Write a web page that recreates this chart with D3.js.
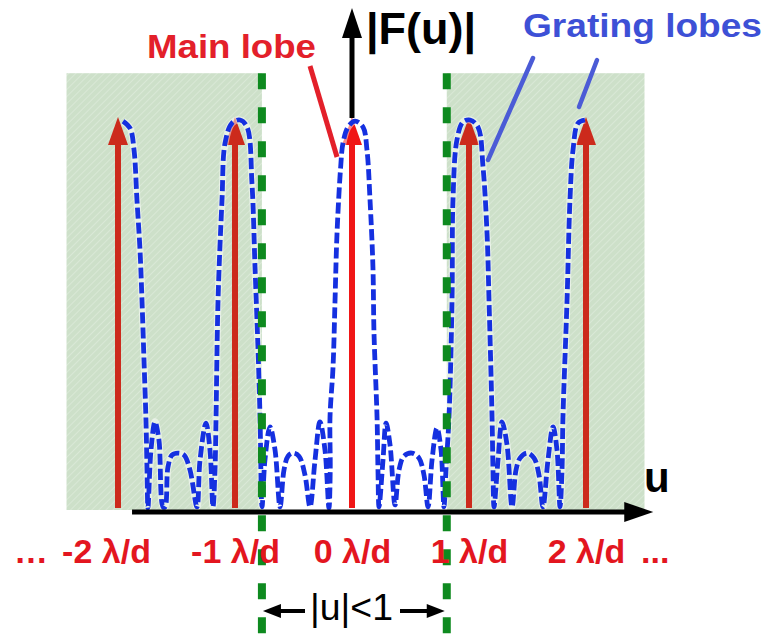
<!DOCTYPE html>
<html>
<head>
<meta charset="utf-8">
<script src="https://cdn.jsdelivr.net/npm/d3@7"></script>
<style>
  html, body { margin: 0; padding: 0; background: #ffffff; }
  svg { display: block; }
  text { font-family: "Liberation Sans", Arial, Helvetica, sans-serif; }
</style>
</head>
<body>
<script>
// ---------------- data ----------------
const uTicks = [-2, -1, 0, 1, 2];
const tickLabels = ["-2 \u03BB/d", "-1 \u03BB/d", "0 \u03BB/d", "1 \u03BB/d", "2 \u03BB/d"];
const arrowAmp = [1, 1, 1, 1, 1];

// |F(u)| curve (u in λ/d units, relative amplitude)
const curveU = [
  -1.957, -1.897, -1.863, -1.838, -1.812, -1.795, -1.778, -1.761, -1.752, -1.744,
  -1.718, -1.684, -1.650, -1.615,
  -1.598, -1.573, -1.538, -1.487, -1.436, -1.385, -1.325,
  -1.299, -1.248, -1.214, -1.188,
  -1.171, -1.162, -1.145, -1.111, -1.085, -1.026, -0.957, -0.897, -0.855, -0.829, -0.803, -0.786, -0.769,
  -0.744, -0.701, -0.658, -0.615,
  -0.581, -0.547, -0.504, -0.453, -0.402, -0.359,
  -0.316, -0.274, -0.231, -0.197,
  -0.186, -0.188, -0.162, -0.145, -0.128, -0.097, -0.077, -0.034, 0.026, 0.094, 0.128, 0.154, 0.179, 0.188, 0.214, 0.222, 0.231,
  0.265, 0.291, 0.325, 0.368,
  0.402, 0.444, 0.513, 0.573, 0.615, 0.650,
  0.684, 0.726, 0.761, 0.786,
  0.803, 0.829, 0.855, 0.863, 0.897, 0.949, 1.009, 1.077, 1.120, 1.154, 1.171, 1.197, 1.205, 1.214,
  1.248, 1.282, 1.325, 1.368,
  1.402, 1.436, 1.496, 1.556, 1.598, 1.632,
  1.675, 1.718, 1.752, 1.778,
  1.795, 1.803, 1.838, 1.863, 1.889, 1.932, 1.991
];
const curveAmp = [
  0.997, 0.979, 0.923, 0.795, 0.667, 0.538, 0.385, 0.231, 0.103, 0.005,
  0.154, 0.226, 0.179, 0.008,
  0.008, 0.110, 0.141, 0.146, 0.141, 0.103, 0.008,
  0.128, 0.223, 0.154, 0.008,
  0.103, 0.238, 0.538, 0.795, 0.941, 0.992, 1.000, 0.982, 0.838, 0.623, 0.410, 0.238, 0.008,
  0.128, 0.213, 0.154, 0.008,
  0.103, 0.138, 0.146, 0.138, 0.090, 0.008,
  0.128, 0.226, 0.154, 0.005,
  0.103, 0.238, 0.367, 0.538, 0.710, 0.879, 0.941, 0.982, 0.997, 0.982, 0.923, 0.795, 0.623, 0.454, 0.238, 0.103, 0.008,
  0.128, 0.223, 0.167, 0.013,
  0.103, 0.138, 0.146, 0.133, 0.090, 0.008,
  0.128, 0.210, 0.154, 0.008,
  0.103, 0.238, 0.538, 0.795, 0.949, 0.995, 1.000, 0.982, 0.879, 0.710, 0.538, 0.238, 0.103, 0.008,
  0.128, 0.226, 0.167, 0.008,
  0.103, 0.133, 0.146, 0.133, 0.090, 0.008,
  0.128, 0.213, 0.154, 0.008,
  0.103, 0.238, 0.538, 0.795, 0.923, 0.992, 1.000
];

const visibleBounds = [-0.77, 0.81];     // |u| < 1 boundaries (green dashed lines)
const shadeLeft = [-2.44, -0.77];        // grating-lobe (invisible) regions
const shadeRight = [0.81, 2.50];
const shadeTop = 1.12;
const axisULimits = [-1.88, 2.575];
const yAxisTop = 1.287;

const titleText = "|F(u)|";
const mainLobeText = "Main lobe";
const gratingText = "Grating lobes";
const uLabel = "u";
const visibleText = "|u|<1";

// ---------------- drawing ----------------
const W = 765, H = 642;
const svg = d3.select("body").append("svg").attr("width", W).attr("height", H);

const x = d3.scaleLinear().domain([-2, 2]).range([118, 586]);
const y = d3.scaleLinear().domain([0, 1]).range([510, 120]);

// hatch pattern for the shaded regions
const defs = svg.append("defs");
const pat = defs.append("pattern").attr("id", "hatch").attr("patternUnits", "userSpaceOnUse")
  .attr("width", 5).attr("height", 5).attr("patternTransform", "rotate(45)");
pat.append("rect").attr("width", 5).attr("height", 5).attr("fill", "#cde0c9");
pat.append("line").attr("x1", 0).attr("y1", 0).attr("x2", 0).attr("y2", 5)
  .attr("stroke", "#d9e8d6").attr("stroke-width", 2);

[shadeLeft, shadeRight].forEach(s => {
  svg.append("rect")
    .attr("x", x(s[0])).attr("y", y(shadeTop))
    .attr("width", x(s[1]) - x(s[0])).attr("height", y(0) - y(shadeTop))
    .attr("fill", "url(#hatch)");
});

// red delta arrows
const inShade = u => u < visibleBounds[0] || u > visibleBounds[1];
const arrows = svg.append("g");
uTicks.forEach((u, i) => {
  const col = inShade(u) ? "#cc2a1c" : "#f01616";
  const tipY = y(arrowAmp[i]) - 3;
  arrows.append("line")
    .attr("x1", x(u)).attr("x2", x(u))
    .attr("y1", 508).attr("y2", tipY + 24)
    .attr("stroke", col).attr("stroke-width", 6);
  arrows.append("path")
    .attr("d", `M${x(u)},${tipY} L${x(u) + 10},${tipY + 28} L${x(u) - 10},${tipY + 28} Z`)
    .attr("fill", col);
});

// vertical axis arrow
const ax0 = x(0);
svg.append("line").attr("x1", ax0).attr("x2", ax0)
  .attr("y1", y(1) - 2).attr("y2", y(yAxisTop) + 24)
  .attr("stroke", "#000").attr("stroke-width", 5);
svg.append("path")
  .attr("d", `M${ax0},${y(yAxisTop)} L${ax0 + 10},${y(yAxisTop) + 30} L${ax0 - 10},${y(yAxisTop) + 30} Z`)
  .attr("fill", "#000");

// blue dashed |F(u)| curve
const pts = curveU.map((u, i) => [u, curveAmp[i]]);
const line = d3.line().x(d => x(d[0])).y(d => y(d[1])).curve(d3.curveCatmullRom.alpha(0.5));
svg.append("path").attr("d", line(pts))
  .attr("fill", "none").attr("stroke", "#ffffff").attr("stroke-width", 7).attr("opacity", 0.5);
svg.append("path").attr("d", line(pts))
  .attr("fill", "none").attr("stroke", "#1530e0").attr("stroke-width", 4.8)
  .attr("stroke-dasharray", "11,4").attr("stroke-linejoin", "round");

// horizontal axis arrow
const axY = 512;
svg.append("line")
  .attr("x1", x(axisULimits[0])).attr("x2", x(axisULimits[1]) - 24)
  .attr("y1", axY).attr("y2", axY)
  .attr("stroke", "#000").attr("stroke-width", 5);
svg.append("path")
  .attr("d", `M${x(axisULimits[1])},${axY} L${x(axisULimits[1]) - 29},${axY - 10} L${x(axisULimits[1]) - 29},${axY + 10} Z`)
  .attr("fill", "#000");

// green dashed boundaries
visibleBounds.forEach(b => {
  svg.append("line")
    .attr("x1", x(b)).attr("x2", x(b))
    .attr("y1", y(shadeTop)).attr("y2", H)
    .attr("stroke", "#0e8a1f").attr("stroke-width", 8)
    .attr("stroke-dasharray", "16,18");
});

// tick labels via d3 axis
const axisG = svg.append("g").attr("transform", `translate(0,${axY})`)
  .call(d3.axisBottom(x).tickValues(uTicks).tickSize(0)
    .tickFormat((d, i) => tickLabels[i]));
axisG.select(".domain").remove();
axisG.selectAll("text")
  .attr("dy", null).attr("y", 51)
  .attr("dx", (d, i) => i === 0 ? -12 : 0)
  .attr("fill", "#e3161f")
  .style("font-family", '"Liberation Sans", Arial, sans-serif')
  .style("font-weight", "bold").style("font-size", "34px");

svg.append("text").attr("x", 14).attr("y", 563).text("\u2026")
  .attr("fill", "#e3161f").style("font-weight", "bold").style("font-size", "34px");
svg.append("text").attr("x", 641).attr("y", 563).text("...")
  .attr("fill", "#e3161f").style("font-weight", "bold").style("font-size", "34px");

// axis labels
svg.append("text").attr("x", ax0 + 14).attr("y", 44).text(titleText)
  .attr("fill", "#000").style("font-weight", "bold").style("font-size", "44px")
  .attr("textLength", 110).attr("lengthAdjust", "spacingAndGlyphs");
svg.append("text").attr("x", 644).attr("y", 492).text(uLabel)
  .attr("fill", "#000").style("font-weight", "bold").style("font-size", "42px");

// annotations
svg.append("text").attr("x", 147).attr("y", 58).text(mainLobeText)
  .attr("fill", "#e3202a").style("font-weight", "bold").style("font-size", "33px")
  .attr("textLength", 169).attr("lengthAdjust", "spacingAndGlyphs");
svg.append("line").attr("x1", 310).attr("y1", 66).attr("x2", 337).attr("y2", 157)
  .attr("stroke", "#e3202a").attr("stroke-width", 5);

svg.append("text").attr("x", 523).attr("y", 37).text(gratingText)
  .attr("fill", "#3d50d6").style("font-weight", "bold").style("font-size", "33px")
  .attr("textLength", 239).attr("lengthAdjust", "spacingAndGlyphs");
svg.append("line").attr("x1", 533).attr("y1", 58).attr("x2", 488).attr("y2", 160)
  .attr("stroke", "#4b5bd6").attr("stroke-width", 4.5).attr("stroke-linecap", "round");
svg.append("line").attr("x1", 597).attr("y1", 60).attr("x2", 579).attr("y2", 107)
  .attr("stroke", "#4b5bd6").attr("stroke-width", 4.5).attr("stroke-linecap", "round");

// |u|<1 span
const bx0 = x(visibleBounds[0]) + 1, bx1 = x(visibleBounds[1]) - 2, by = 611;
svg.append("text").attr("x", 310).attr("y", 620).text(visibleText)
  .attr("fill", "#000").style("font-size", "37px")
  .attr("textLength", 83).attr("lengthAdjust", "spacingAndGlyphs");
svg.append("line").attr("x1", 305).attr("x2", bx0 + 14).attr("y1", by).attr("y2", by)
  .attr("stroke", "#000").attr("stroke-width", 4);
svg.append("path").attr("d", `M${bx0},${by} L${bx0 + 18},${by - 7} L${bx0 + 18},${by + 7} Z`).attr("fill", "#000");
svg.append("line").attr("x1", 400).attr("x2", bx1 - 14).attr("y1", by).attr("y2", by)
  .attr("stroke", "#000").attr("stroke-width", 4);
svg.append("path").attr("d", `M${bx1},${by} L${bx1 - 18},${by - 7} L${bx1 - 18},${by + 7} Z`).attr("fill", "#000");
</script>
</body>
</html>
